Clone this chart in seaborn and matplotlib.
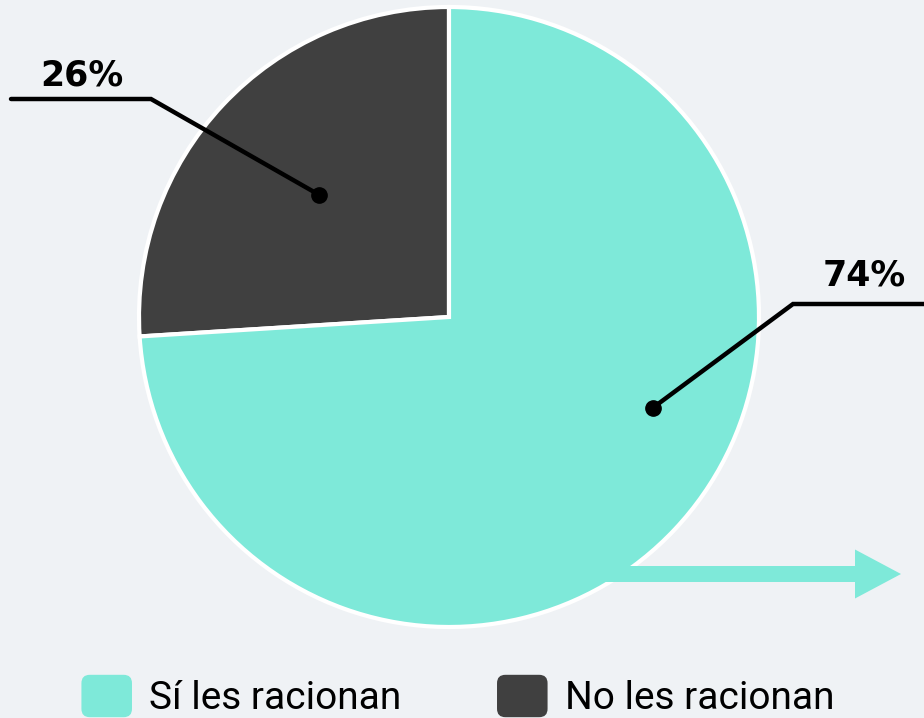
import matplotlib
matplotlib.use("Agg")
import matplotlib.pyplot as plt
import seaborn as sns
import numpy as np
from matplotlib.patches import FancyArrow, FancyBboxPatch
from matplotlib.legend_handler import HandlerPatch

# ---------------------------------------------------------------------------
labels = ["Sí les racionan", "No les racionan"]
values = [74, 26]
pct_labels = ["74%", "26%"]
colors = ["#7ee9d9", "#404040"]
# ---------------------------------------------------------------------------

sns.set_style("white")
plt.rcParams["font.family"] = ["Roboto", "DejaVu Sans"]
plt.rcParams["text.color"] = "black"
bg = "#eff2f5"

W, H = 924, 718
fig = plt.figure(figsize=(W / 100, H / 100), dpi=100, facecolor=bg)
ax = fig.add_axes([0, 0, 1, 1])
ax.set_facecolor(bg)

# pie drawn in pixel units, dark slice first so it sits at the top-left
cx, cy, R = 449, H - 317, 310
wedges, _ = ax.pie(values[::-1], colors=colors[::-1], startangle=90,
                   counterclock=True, radius=R, center=(cx, cy),
                   wedgeprops=dict(edgecolor="white", linewidth=3))
ax.set_xlim(0, W)
ax.set_ylim(0, H)
ax.set_aspect("equal", adjustable="box")
ax.axis("off")

# leader lines: dot angle / radius fraction, elbow, end, text position
leaders = {
    "26%": dict(ang=None, frac=0.577, elbow=(151, H - 99), end=(11, H - 99),
                txt=(40, H - 85), wedge=wedges[0]),
    "74%": dict(ang=-24, frac=0.72, elbow=(793, H - 304), end=(924, H - 304),
                txt=(823, H - 285), wedge=wedges[1]),
}
for lab, d in leaders.items():
    w = d["wedge"]
    ang = d["ang"] if d["ang"] is not None else (w.theta1 + w.theta2) / 2
    dx = cx + d["frac"] * R * np.cos(np.radians(ang))
    dy = cy + d["frac"] * R * np.sin(np.radians(ang))
    ax.plot([dx, d["elbow"][0], d["end"][0]], [dy, d["elbow"][1], d["end"][1]],
            color="black", lw=3.2, solid_joinstyle="miter", zorder=5)
    ax.plot(dx, dy, "o", color="black", ms=11, zorder=6)
    ax.text(d["txt"][0], d["txt"][1], lab, fontsize=25, fontweight="bold",
            family="DejaVu Sans", color="black", ha="left", va="baseline",
            zorder=6)

# teal arrow running out of the pie
ax.add_patch(FancyArrow(600, H - 574, 301, 0, width=16, head_width=49,
                        head_length=46, length_includes_head=True,
                        color=colors[0], lw=0, zorder=4))


class RoundHandler(HandlerPatch):
    def create_artists(self, legend, orig_handle, xdescent, ydescent,
                       width, height, fontsize, trans):
        p = FancyBboxPatch((-xdescent, -ydescent), width, height,
                           boxstyle="round,pad=0,rounding_size=6",
                           facecolor=orig_handle.get_facecolor(),
                           edgecolor="none", transform=trans)
        return [p]


handles = [wedges[1], wedges[0]]
leg = ax.legend(handles, labels, loc="center", ncol=2, frameon=False,
                bbox_to_anchor=(458 / W, 1 - 696 / H), fontsize=28,
                handlelength=1.3, handleheight=1.3, handletextpad=0.45,
                columnspacing=2.45, labelcolor="black",
                handler_map={type(wedges[0]): RoundHandler()})

fig.savefig("out.png", dpi=100, facecolor=bg)
